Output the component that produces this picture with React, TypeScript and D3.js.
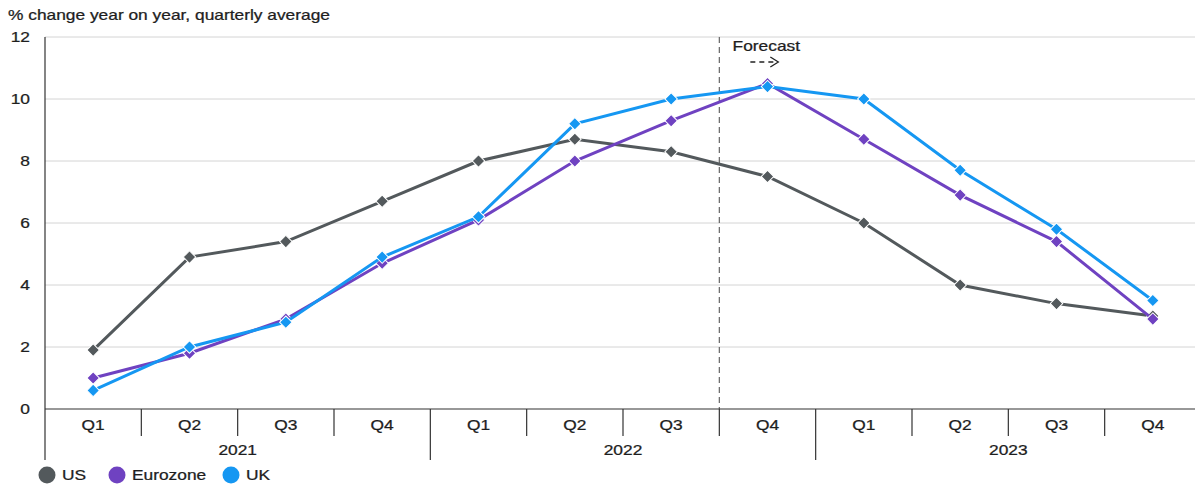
import React from "react";
import * as d3 from "d3";

const quarters = ["Q1", "Q2", "Q3", "Q4", "Q1", "Q2", "Q3", "Q4", "Q1", "Q2", "Q3", "Q4"];
const years = ["2021", "2022", "2023"];
const usValues = [1.9, 4.9, 5.4, 6.7, 8.0, 8.7, 8.3, 7.5, 6.0, 4.0, 3.4, 3.0];
const euroValues = [1.0, 1.8, 2.9, 4.7, 6.1, 8.0, 9.3, 10.5, 8.7, 6.9, 5.4, 2.9];
const ukValues = [0.6, 2.0, 2.8, 4.9, 6.2, 9.2, 10.0, 10.4, 10.0, 7.7, 5.8, 3.5];
const yTicks = [0, 2, 4, 6, 8, 10, 12];
const forecastStart = 7;

const series = [
  { name: "US", color: "#53595c", values: usValues },
  { name: "Eurozone", color: "#6f42c1", values: euroValues },
  { name: "UK", color: "#1597f2", values: ukValues },
];

const W = 1195;
const H = 484;
const font = "'Liberation Sans', Arial, sans-serif";
const SX = 1.24; // text in the reference is drawn a bit wide

// stretched label, anchor handled before the scale
const Label = ({ x, y, anchor = "start", children }: any) => (
  <text
    transform={`translate(${x},${y}) scale(${SX},1)`}
    textAnchor={anchor}
    fontSize={14}
    fill="#1e1e1e"
    stroke="#1e1e1e"
    strokeWidth={0.25}
  >
    {children}
  </text>
);

export default function App() {
  const x = d3.scaleBand<number>().domain(d3.range(quarters.length)).range([45, 1201]);
  const y = d3.scaleLinear().domain([0, 12]).range([409, 37]);
  const cx = (i: number) => x(i)! + x.bandwidth() / 2;
  const line = d3
    .line<number>()
    .x((_, i) => cx(i))
    .y((d) => y(d));
  const marker = d3.symbol().type(d3.symbolSquare).size(78)();
  const axisY = y(0);
  const fx = x(forecastStart)!;

  return (
    <svg width={W} height={H} style={{ position: "absolute", left: 0, top: 0 }} fontFamily={font}>
      <Label x={8} y={20}>% change year on year, quarterly average</Label>
      {yTicks.map((t) => (
        <g key={t}>
          {t > 0 && <line x1={45} x2={W} y1={y(t)} y2={y(t)} stroke="#d4d4d4" strokeWidth={1} />}
          <Label x={30} y={y(t) + 5} anchor="end">{t}</Label>
        </g>
      ))}
      <line x1={fx} x2={fx} y1={37} y2={axisY} stroke="#666" strokeWidth={1.2} strokeDasharray="6,4" />
      <Label x={fx + 47} y={51} anchor="middle">Forecast</Label>
      <g stroke="#222" strokeWidth={1.3} fill="none">
        <line x1={fx + 31} x2={fx + 57} y1={62} y2={62} strokeDasharray="5,4" />
        <path d={`M${fx + 51},57 L${fx + 59},62 L${fx + 51},67`} />
      </g>
      {series.map((s) => (
        <g key={s.name}>
          <path d={line(s.values)!} fill="none" stroke={s.color} strokeWidth={3} />
          {s.values.map((v, i) => (
            <path
              key={i}
              d={marker}
              transform={`translate(${cx(i)},${y(v)}) rotate(45)`}
              fill={s.color}
              stroke="#fff"
              strokeWidth={1}
            />
          ))}
        </g>
      ))}
      <line x1={45} x2={W} y1={axisY} y2={axisY} stroke="#333" strokeWidth={1.2} />
      <line x1={45} x2={45} y1={37} y2={460} stroke="#333" strokeWidth={1.2} />
      {quarters.map((q, i) => (
        <g key={i}>
          <Label x={cx(i)} y={430} anchor="middle">{q}</Label>
          {i > 0 && (
            <line
              x1={x(i)!}
              x2={x(i)!}
              y1={axisY}
              y2={i % 4 === 0 ? 460 : 436}
              stroke="#333"
              strokeWidth={1.2}
            />
          )}
        </g>
      ))}
      {years.map((yr, j) => (
        <Label key={yr} x={x(j * 4)! + x.bandwidth() * 2} y={455} anchor="middle">{yr}</Label>
      ))}
      {series.map((s, i) => {
        const lx = [47, 117, 231][i];
        return (
          <g key={s.name}>
            <circle cx={lx} cy={475} r={8.5} fill={s.color} />
            <Label x={lx + 15} y={480}>{s.name}</Label>
          </g>
        );
      })}
    </svg>
  );
}
